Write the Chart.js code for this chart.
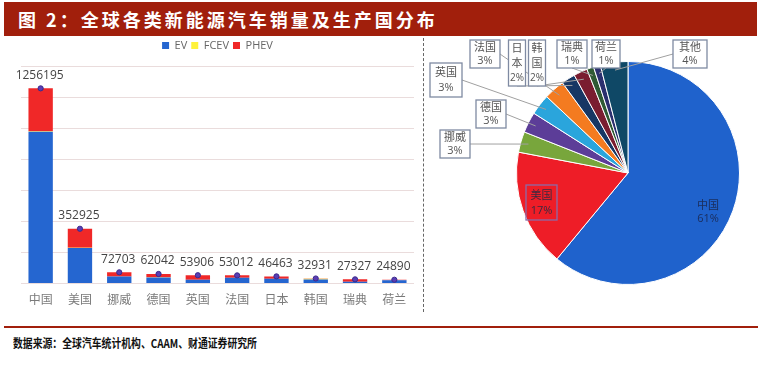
<!DOCTYPE html>
<html><head><meta charset="utf-8">
<script src="https://cdn.jsdelivr.net/npm/chart.js@4.4.1/dist/chart.umd.min.js"></script>
<style>
html,body{margin:0;padding:0;background:#fff;width:781px;height:375px;overflow:hidden;font-family:"Noto Sans CJK SC",sans-serif;}
#title{position:absolute;left:4px;top:2px;width:753px;height:34px;background:#a11f0c;color:#fff;font-weight:bold;font-size:18px;line-height:34px;padding-left:14px;box-sizing:border-box;letter-spacing:3px;white-space:nowrap;}
#bar{position:absolute;left:0;top:36px;}
#pie{position:absolute;left:423px;top:36px;}
#sep{position:absolute;left:423px;top:38px;height:274px;border-left:1px dashed #666;}
#rule{position:absolute;left:4px;top:326px;width:754px;height:2px;background:#a11f0c;}
#src{position:absolute;left:13px;top:334px;font-size:12px;font-weight:bold;color:#111;white-space:nowrap;transform:scaleX(0.82);transform-origin:0 50%;}
</style></head>
<body>
<div id="title">图 2：全球各类新能源汽车销量及生产国分布</div>
<canvas id="bar" width="430" height="280"></canvas>
<div id="sep"></div>
<canvas id="pie" width="358" height="270"></canvas>
<div id="rule"></div>
<div id="src">数据来源：全球汽车统计机构、CAAM、财通证券研究所</div>
<script>
// ---- data ----
const categories = ['中国','美国','挪威','德国','英国','法国','日本','韩国','瑞典','荷兰'];
const evSales   = [977000, 229000, 46000, 40000, 24000, 38000, 31000, 27000, 12000, 22000];
const fcevSales = [2700, 2100, 100, 300, 50, 150, 700, 4100, 10, 300];
const phevSales = [276495, 121825, 26603, 21742, 29856, 14862, 14763, 1831, 15317, 2590];
const totalSales = [1256195, 352925, 72703, 62042, 53906, 53012, 46463, 32931, 27327, 24890];
const yMax = 1400000;
const yStep = 200000;

const pieLabels = ['中国','美国','挪威','德国','英国','法国','日本','韩国','瑞典','荷兰','其他'];
const pieShares = [61, 17, 3, 3, 3, 3, 2, 2, 1, 1, 4];

// ---- styles ----
const pieColors = ['#1f62cc','#ee1d27','#78a63c','#5c3d98','#2aa5dc','#f47b20','#173764','#7a1d30','#2f5a34','#2b2f6e','#0f4866'];

const legendSpacer = {
  id:'legendSpacer',
  beforeInit(chart){
    const lg = chart.legend; if(!lg) return;
    const orig = lg.fit;
    lg.fit = function(){ orig.call(lg); this.height += 5; };
  }
};

const totalLabels = {
  id:'totalLabels',
  afterDatasetsDraw(chart){
    const ctx = chart.ctx;
    const meta = chart.getDatasetMeta(3);
    ctx.save();
    ctx.font = '12px "Open Sans", sans-serif';
    ctx.fillStyle = '#444';
    ctx.textAlign = 'center';
    ctx.textBaseline = 'middle';
    meta.data.forEach((pt, i) => {
      ctx.fillText(String(totalSales[i]), pt.x - 1, pt.y - 13);
    });
    ctx.restore();
  }
};

new Chart(document.getElementById('bar'), {
  data: {
    labels: categories,
    datasets: [
      {type:'bar', label:'EV', data: evSales, backgroundColor:'#2566d0', stack:'s', order:2},
      {type:'bar', label:'FCEV', data: fcevSales, backgroundColor:'#fff23a', stack:'s', order:2},
      {type:'bar', label:'PHEV', data: phevSales, backgroundColor:'#f02828', stack:'s', order:2},
      {type:'line', label:'total', data: totalSales, stack:'t', showLine:false, order:1,
       pointRadius:2.6, pointBackgroundColor:'#5a3db4', pointBorderColor:'#3b2a8c', pointBorderWidth:1}
    ]
  },
  options: {
    responsive:false, animation:false, devicePixelRatio:1,
    categoryPercentage:1, barPercentage:0.62,
    layout:{padding:{left:21, right:16, top:0, bottom:0}},
    plugins:{
      tooltip:{enabled:false},
      legend:{
        position:'top',
        labels:{
          boxWidth:7, boxHeight:7, padding:4, color:'#666',
          font:{size:11, family:'"Open Sans", sans-serif'},
          filter:(item)=> item.datasetIndex < 3
        }
      }
    },
    scales:{
      x:{
        stacked:true,
        grid:{display:false, drawTicks:false},
        border:{display:false},
        ticks:{color:'#7a7a7a', padding:9, font:{size:12, family:'"Noto Sans CJK SC", sans-serif'}}
      },
      y:{
        stacked:true, min:0, max:yMax,
        ticks:{display:false, stepSize:yStep},
        grid:{color:'#eadcdc', drawTicks:false, lineWidth:1},
        border:{display:false}
      }
    }
  },
  plugins:[legendSpacer, totalLabels]
});

// ---- pie ----
const OX = 423, OY = 36;
const pieLabelBoxes = [
  {x:708, y:212, box:false, color:'#1b2d5c'},
  {x:541.5, y:202.5, w:31, h:35, box:true, border:'#8c6aa8', color:'#3a2a40'},
  {x:455, y:144, w:30, h:28, from:'right'},
  {x:491, y:114, w:30, h:28, from:'right'},
  {x:446, y:80, w:32, h:34, from:'right'},
  {x:485, y:54, w:30, h:28, from:'right'},
  {x:517, y:63, w:17, h:46, from:'bottom', vertical:true},
  {x:537, y:63, w:17, h:46, from:'bottom', vertical:true},
  {x:572, y:54, w:30, h:28, from:'bottom'},
  {x:606, y:54, w:28, h:28, from:'bottom'},
  {x:690, y:54, w:34, h:28, from:'left'}
];

const pieLabelPlugin = {
  id:'pieLabelPlugin',
  afterDraw(chart){
    const ctx = chart.ctx;
    const arcs = chart.getDatasetMeta(0).data;
    ctx.save();
    pieLabelBoxes.forEach((b, i) => {
      const cx = b.x - OX, cy = b.y - OY;
      const arc = arcs[i];
      if (b.from) {
        const mid = (arc.startAngle + arc.endAngle) / 2;
        const r = arc.outerRadius * 0.93;
        const ex = arc.x + Math.cos(mid) * r, ey = arc.y + Math.sin(mid) * r;
        let sx = cx, sy = cy;
        if (b.from === 'right') sx = cx + b.w/2;
        if (b.from === 'left') sx = cx - b.w/2;
        if (b.from === 'bottom') sy = cy + b.h/2;
        ctx.strokeStyle = '#a0a0a0'; ctx.lineWidth = 1;
        ctx.beginPath(); ctx.moveTo(sx, sy); ctx.lineTo(ex, ey); ctx.stroke();
        ctx.fillStyle = '#fff';
        ctx.fillRect(cx - b.w/2, cy - b.h/2, b.w, b.h);
        ctx.strokeStyle = '#7f8aa2'; ctx.lineWidth = 1.3;
        ctx.strokeRect(cx - b.w/2, cy - b.h/2, b.w, b.h);
      } else if (b.box) {
        ctx.strokeStyle = b.border; ctx.lineWidth = 1.3;
        ctx.strokeRect(cx - b.w/2, cy - b.h/2, b.w, b.h);
      }
      ctx.textAlign = 'center'; ctx.textBaseline = 'middle';
      ctx.fillStyle = b.color || '#555';
      const name = pieLabels[i], pct = pieShares[i] + '%';
      if (b.vertical) {
        ctx.font = '11px "Noto Sans CJK SC", sans-serif';
        ctx.fillText(name[0], cx, cy - 15);
        ctx.fillText(name[1], cx, cy);
        ctx.font = '10px "Open Sans", sans-serif';
        ctx.fillText(pct, cx, cy + 15);
      } else {
        const d = (b.h && b.h > 30) ? 8 : 7;
        ctx.font = '11px "Noto Sans CJK SC", sans-serif';
        ctx.fillText(name, cx, cy - d);
        ctx.font = '11px "Open Sans", sans-serif';
        ctx.fillText(pct, cx, cy + d);
      }
    });
    ctx.restore();
  }
};

new Chart(document.getElementById('pie'), {
  type:'pie',
  data:{
    labels: pieLabels,
    datasets:[{data: pieShares, backgroundColor: pieColors, borderColor:'#ffffff', borderWidth:1}]
  },
  options:{
    responsive:false, animation:false, devicePixelRatio:1,
    layout:{padding:{left:93, right:41, top:25, bottom:21}},
    plugins:{legend:{display:false}, tooltip:{enabled:false}}
  },
  plugins:[pieLabelPlugin]
});
</script>
</body></html>
